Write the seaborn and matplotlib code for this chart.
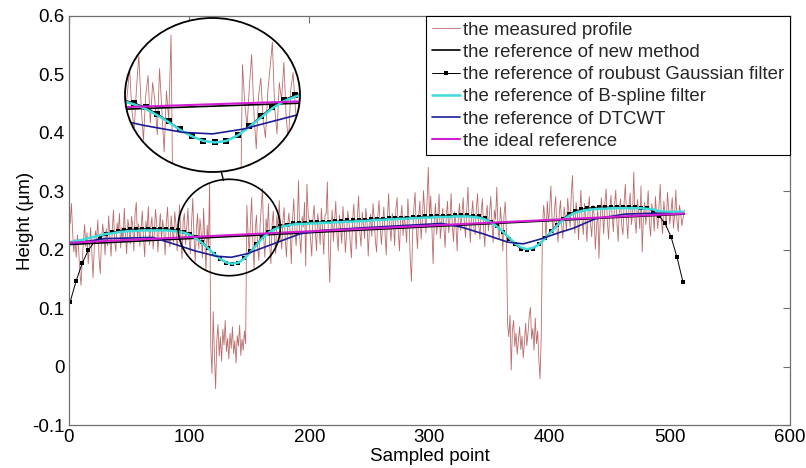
import numpy as np
import pandas as pd
import matplotlib
matplotlib.use("Agg")
import matplotlib.pyplot as plt
import seaborn as sns
from matplotlib.patches import Ellipse, ConnectionPatch

# ---------------- data ----------------
profile = [
    0.245, 0.279, 0.231, 0.196, 0.218, 0.187, 0.225, 0.201, 0.163, 0.139,
    0.182, 0.214, 0.243, 0.205, 0.229, 0.176, 0.208, 0.238, 0.195, 0.152,
    0.201, 0.232, 0.219, 0.251, 0.186, 0.159, 0.212, 0.244, 0.226, 0.191,
    0.236, 0.207, 0.258, 0.221, 0.189, 0.233, 0.268, 0.214, 0.197, 0.246,
    0.229, 0.262, 0.203, 0.238, 0.215, 0.271, 0.224, 0.193, 0.252, 0.236,
    0.209, 0.257, 0.241, 0.198, 0.263, 0.281, 0.219, 0.244, 0.206, 0.237,
    0.266, 0.221, 0.188, 0.249, 0.232, 0.274, 0.208, 0.239, 0.256, 0.201,
    0.228, 0.269, 0.243, 0.196, 0.235, 0.262, 0.217, 0.251, 0.229, 0.191,
    0.247, 0.273, 0.222, 0.205, 0.258, 0.236, 0.212, 0.265, 0.244, 0.198,
    0.231, 0.277, 0.226, 0.185, 0.249, 0.262, 0.209, 0.238, 0.271, 0.217,
    0.193, 0.246, 0.288, 0.224, 0.179, 0.236, 0.262, 0.201, 0.253, 0.229,
    0.186, 0.271, 0.218, 0.164, 0.242, 0.205, 0.314,
    # first pit
    0.032, -0.012, 0.094, 0.021, -0.038, 0.045, 0.072, 0.018, 0.051, 0.009,
    0.064, 0.037, 0.079, 0.026, 0.048, 0.013, 0.057, 0.031, 0.068, 0.022,
    0.044, 0.006, 0.053, 0.035, 0.071, 0.019, 0.047, 0.028, 0.061, 0.039,
    0.276, 0.228, 0.195, 0.247, 0.289, 0.213, 0.168, 0.236, 0.259, 0.204,
    0.182, 0.241, 0.272,
    0.305, 0.221, 0.187, 0.253, 0.231, 0.279, 0.208, 0.176, 0.244, 0.266,
    0.219, 0.193, 0.258, 0.237, 0.284, 0.226, 0.201, 0.249, 0.272, 0.215,
    0.188, 0.242, 0.263, 0.229, 0.176, 0.251, 0.287, 0.234, 0.207, 0.245,
    0.318, 0.221, 0.194, 0.257, 0.239, 0.281, 0.172, 0.312, 0.262, 0.247,
    0.218, 0.189, 0.254, 0.276, 0.231, 0.198, 0.262, 0.243, 0.209, 0.271,
    0.236, 0.192, 0.258, 0.262, 0.316, 0.205, 0.144, 0.231, 0.268, 0.214,
    0.247, 0.283, 0.226, 0.198, 0.259, 0.237, 0.211, 0.274, 0.242, 0.195,
    0.228, 0.266, 0.249, 0.213, 0.186, 0.252, 0.278, 0.235, 0.201, 0.257,
    0.292, 0.231, 0.206, 0.264, 0.243, 0.219, 0.271, 0.248, 0.189, 0.236,
    0.261, 0.223, 0.279, 0.252, 0.214, 0.196, 0.258, 0.284, 0.237, 0.209,
    0.244, 0.273, 0.228, 0.191, 0.255, 0.296, 0.238, 0.215, 0.262, 0.247,
    0.207, 0.269, 0.289, 0.232, 0.198, 0.253, 0.276, 0.224, 0.258, 0.241,
    0.212, 0.287, 0.249, 0.183, 0.146, 0.229, 0.271, 0.298, 0.236, 0.202,
    0.259, 0.283, 0.218, 0.247, 0.301, 0.263, 0.229, 0.286, 0.341, 0.254,
    0.292, 0.238, 0.176, 0.251, 0.279, 0.226, 0.262, 0.295, 0.219, 0.243,
    0.271, 0.237, 0.204, 0.258, 0.283, 0.229, 0.252, 0.296, 0.241, 0.214,
    0.265, 0.243, 0.198, 0.257, 0.279, 0.233, 0.262, 0.289, 0.245, 0.221,
    0.267, 0.307, 0.248, 0.212, 0.259, 0.284, 0.237, 0.226, 0.271, 0.296,
    0.243, 0.218, 0.264, 0.287, 0.239, 0.205, 0.258, 0.276, 0.232, 0.264,
    0.291, 0.244, 0.213, 0.268, 0.252, 0.307, 0.236, 0.219, 0.273, 0.246,
    0.198, 0.259, 0.282, 0.234,
    # second pit
    0.072, 0.051, 0.088, -0.006, 0.063, 0.079, 0.034, 0.057, 0.021, 0.046,
    0.068, 0.029, 0.052, 0.015, 0.041, 0.074, 0.036, 0.058, 0.087, 0.101,
    0.047, 0.065, 0.028, 0.083, 0.039, 0.061, 0.012, -0.021, 0.054,
    0.238, 0.276, 0.254, 0.219, 0.283, 0.247, 0.271,
    0.309, 0.252, 0.226, 0.268, 0.291, 0.237, 0.213, 0.262, 0.284, 0.241,
    0.219, 0.273, 0.256, 0.232, 0.288, 0.263, 0.239, 0.296, 0.327, 0.254,
    0.228, 0.281, 0.264, 0.217, 0.259, 0.302, 0.248, 0.226, 0.279, 0.253,
    0.214, 0.267, 0.291, 0.243, 0.222, 0.276, 0.259, 0.201, 0.238, 0.271,
    0.185, 0.246, 0.289, 0.262, 0.227, 0.281, 0.304, 0.249, 0.218, 0.266,
    0.293, 0.257, 0.231, 0.278, 0.302, 0.246, 0.214, 0.269, 0.287, 0.241,
    0.226, 0.283, 0.312, 0.252, 0.219, 0.274, 0.297, 0.243, 0.262, 0.333,
    0.251, 0.228, 0.286, 0.267, 0.236, 0.309, 0.196, 0.254, 0.281, 0.243,
    0.268, 0.301, 0.247, 0.223, 0.279, 0.263, 0.232, 0.291, 0.258, 0.236,
    0.274, 0.312, 0.249, 0.227, 0.283, 0.261, 0.238, 0.298, 0.271, 0.244,
    0.266, 0.289, 0.237, 0.259, 0.302, 0.248, 0.231, 0.276, 0.263, 0.241,
    0.254, 0.268,
]

# robust Gaussian filter reference, every 5th sample starting at 1
gauss = [
    0.111, 0.147, 0.177, 0.199, 0.213, 0.222, 0.227, 0.230, 0.232, 0.234,
    0.235, 0.235, 0.236, 0.236, 0.236, 0.236, 0.235, 0.235, 0.233, 0.231,
    0.227, 0.221, 0.213, 0.203, 0.193, 0.184, 0.178, 0.176, 0.178, 0.186,
    0.197, 0.210, 0.222, 0.231, 0.237, 0.241, 0.243, 0.245, 0.246, 0.246,
    0.247, 0.247, 0.248, 0.248, 0.249, 0.249, 0.250, 0.250, 0.251, 0.251,
    0.252, 0.253, 0.253, 0.254, 0.254, 0.255, 0.255, 0.256, 0.256, 0.257,
    0.257, 0.258, 0.258, 0.258, 0.259, 0.259, 0.259, 0.258, 0.257, 0.254,
    0.248, 0.240, 0.230, 0.219, 0.209, 0.202, 0.200, 0.202, 0.209, 0.220,
    0.232, 0.243, 0.253, 0.261, 0.266, 0.269, 0.271, 0.272, 0.273, 0.273,
    0.273, 0.273, 0.273, 0.273, 0.273, 0.272, 0.271, 0.266, 0.258, 0.245,
    0.222, 0.187, 0.144,
]

# B-spline filter reference, same sample positions
bspline = [
    0.213, 0.215, 0.217, 0.220, 0.222, 0.225, 0.227, 0.228, 0.230, 0.231,
    0.232, 0.232, 0.233, 0.233, 0.233, 0.233, 0.233, 0.232, 0.231, 0.229,
    0.225, 0.219, 0.211, 0.202, 0.192, 0.184, 0.178, 0.176, 0.178, 0.185,
    0.196, 0.208, 0.220, 0.229, 0.235, 0.239, 0.241, 0.243, 0.244, 0.244,
    0.245, 0.245, 0.246, 0.246, 0.247, 0.247, 0.248, 0.248, 0.249, 0.249,
    0.250, 0.251, 0.251, 0.252, 0.252, 0.253, 0.253, 0.254, 0.254, 0.255,
    0.255, 0.256, 0.256, 0.256, 0.257, 0.257, 0.257, 0.256, 0.255, 0.252,
    0.247, 0.240, 0.231, 0.221, 0.211, 0.204, 0.201, 0.203, 0.209, 0.219,
    0.230, 0.241, 0.251, 0.258, 0.263, 0.266, 0.268, 0.269, 0.270, 0.270,
    0.271, 0.271, 0.271, 0.271, 0.271, 0.271, 0.270, 0.269, 0.266, 0.265,
    0.265, 0.265, 0.265,
]

dtcwt_x = [1, 30, 70, 90, 105, 122, 135, 148, 170, 192, 210, 240, 275, 310,
           326, 345, 365, 378, 392, 409, 420, 438, 463, 488, 512]
dtcwt_y = [0.210, 0.219, 0.221, 0.208, 0.198, 0.189, 0.187, 0.193, 0.210,
           0.227, 0.233, 0.237, 0.241, 0.245, 0.239, 0.227, 0.213, 0.210,
           0.218, 0.230, 0.237, 0.253, 0.261, 0.2625, 0.261]

newmethod_x = [1, 512]
newmethod_y = [0.209, 0.261]
ideal_x = [1, 512]
ideal_y = [0.212, 0.262]

labels = ["the measured profile", "the reference of new method",
          "the reference of roubust Gaussian filter",
          "the reference of B-spline filter", "the reference of DTCWT",
          "the ideal reference"]
xticks = [0, 100, 200, 300, 400, 500, 600]
yticks = [-0.1, 0, 0.1, 0.2, 0.3, 0.4, 0.5, 0.6]
ytick_labels = ["-0.1", "0", "0.1", "0.2", "0.3", "0.4", "0.5", "0.6"]

sample_x = np.arange(1, len(profile) + 1)
filt_x = np.arange(1, 5 * len(gauss), 5)

# ---------------- style ----------------
sns.set_theme(style="white")
plt.rcParams["font.family"] = ["Liberation Sans", "DejaVu Sans"]

C_PROF = "#b35c5c"
C_CYAN = "#3ddbd9"
C_BLUE = "#1c1c96"
C_MAG = "#d21ed2"


def draw(axis, with_labels, msize):
    lab = (lambda i: labels[i]) if with_labels else (lambda i: None)
    sns.lineplot(x=sample_x, y=profile, ax=axis, color=C_PROF, lw=0.6,
                 alpha=0.9, estimator=None, label=lab(0), legend=False)
    sns.lineplot(x=newmethod_x, y=newmethod_y, ax=axis, color="black",
                 lw=1.2, estimator=None, label=lab(1), legend=False)
    sns.lineplot(x=filt_x, y=gauss, ax=axis, color="black", lw=0.7,
                 marker="s", markersize=msize, markeredgewidth=0,
                 estimator=None, label=lab(2), legend=False)
    sns.lineplot(x=filt_x, y=bspline, ax=axis, color=C_CYAN, lw=1.8,
                 estimator=None, label=lab(3), legend=False)
    sns.lineplot(x=dtcwt_x, y=dtcwt_y, ax=axis, color=C_BLUE, lw=1.2,
                 estimator=None, label=lab(4), legend=False)
    sns.lineplot(x=ideal_x, y=ideal_y, ax=axis, color=C_MAG, lw=1.5,
                 estimator=None, label=lab(5), legend=False)


fig = plt.figure(figsize=(8.06, 4.68), dpi=100)
ax = fig.add_axes([69 / 806, 1 - 425 / 468, (790 - 69) / 806, (425 - 16) / 468])
draw(ax, True, 3.5)

ax.set_xlim(0, 600)
ax.set_ylim(-0.1, 0.6)
ax.set_xticks(xticks)
ax.set_xticklabels([str(t) for t in xticks])
ax.set_yticks(yticks)
ax.set_yticklabels(ytick_labels)
ax.tick_params(direction="in", length=5, width=0.8, top=True, right=True,
               labelsize=13.5, color="#707070", labelcolor="black", pad=3)
for s in ax.spines.values():
    s.set_color("#707070")
    s.set_linewidth(0.9)
ax.set_xlabel("Sampled point", fontsize=13.5, labelpad=1, color="black")
ax.set_ylabel("Height (μm)", fontsize=13.5, labelpad=-1, color="black")

leg = ax.legend(loc="upper right", borderaxespad=0, frameon=True,
                fancybox=False, edgecolor="black", framealpha=1,
                fontsize=13.4, handlelength=1.5, handletextpad=0.2,
                labelspacing=0.28, borderpad=0.3)
leg.get_frame().set_linewidth(0.8)

# small circle marking the magnified zone
small = Ellipse((133.3, 0.238), 85, 0.165, fill=False, edgecolor="black",
                lw=1.2, zorder=10, clip_on=False)
ax.add_patch(small)

# magnified inset, clipped to a circle
ax_in = fig.add_axes([125 / 806, 1 - 172 / 468, 175 / 806, 154 / 468])
ax_in.patch.set_visible(False)
bg = Ellipse((0.5, 0.5), 1, 1, transform=ax_in.transAxes, facecolor="white",
             edgecolor="none", zorder=0)
ax_in.add_patch(bg)
draw(ax_in, False, 4.0)
ax_in.set_xlim(97, 173)
ax_in.set_ylim(0.138, 0.336)
ax_in.axis("off")
clip = Ellipse((0.5, 0.5), 1, 1, transform=ax_in.transAxes)
for ln in ax_in.lines:
    ln.set_clip_path(clip)
ring = Ellipse((0.5, 0.5), 1, 1, transform=ax_in.transAxes, fill=False,
               edgecolor="black", lw=1.3, zorder=20, clip_on=False)
ax_in.add_patch(ring)
if ax_in.get_legend() is not None:
    ax_in.get_legend().remove()

con = ConnectionPatch(xyA=(0.55, 0.003), coordsA=ax_in.transAxes,
                      xyB=(128.5, 0.3187), coordsB=ax.transData,
                      color="black", lw=1.0)
fig.add_artist(con)

fig.savefig("out.png", dpi=100)
